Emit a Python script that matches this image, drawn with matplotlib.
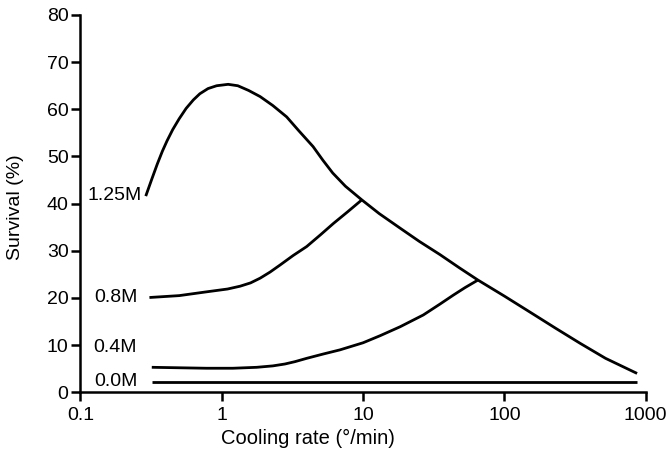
import matplotlib
matplotlib.use("Agg")
import matplotlib.pyplot as plt
from matplotlib.ticker import FixedLocator, FixedFormatter, NullLocator

plt.rcParams['font.family'] = ['Liberation Sans', 'DejaVu Sans']

# Data
x_125 = [0.29, 0.32, 0.35, 0.38, 0.41, 0.45, 0.50, 0.56, 0.63, 0.70, 0.80, 0.92, 1.11, 1.3, 1.55, 1.87, 2.3, 2.88,
         3.5, 4.43, 5.2, 6.1, 7.5, 9.8, 13, 18.3, 25, 35, 48, 65, 100, 150, 230, 343, 520, 869]
y_125 = [41.6, 45.2, 48.4, 51.1, 53.3, 55.7, 58.0, 60.2, 62.0, 63.3, 64.4, 65.0, 65.3, 65.0, 64.0, 62.7, 60.8, 58.4,
         55.5, 52.1, 49.2, 46.5, 43.7, 40.8, 37.9, 34.8, 32.0, 29.2, 26.4, 23.8, 20.4, 17.1, 13.6, 10.4, 7.2, 4.0]

x_08 = [0.308, 0.5, 0.78, 1.1, 1.35, 1.6, 1.87, 2.2, 2.59, 3.2, 3.99, 5.0, 6.17, 7.8, 9.8]
y_08 = [20.1, 20.5, 21.3, 21.9, 22.5, 23.2, 24.2, 25.5, 27.0, 29.0, 30.9, 33.4, 35.8, 38.3, 40.8]

x_04 = [0.32, 0.5, 0.78, 1.2, 1.77, 2.3, 2.8, 3.3, 3.99, 5.2, 6.87, 10, 13.2, 18.3, 26.7, 35, 43.5, 52.7, 65]
y_04 = [5.3, 5.2, 5.1, 5.1, 5.3, 5.6, 6.0, 6.5, 7.2, 8.1, 9.0, 10.5, 12.0, 13.9, 16.4, 18.7, 20.6, 22.2, 23.8]

x_00 = [0.32, 870]
y_00 = [2.2, 2.2]

series_labels = ["1.25M", "0.8M", "0.4M", "0.0M"]
label_y = [41.8, 20.0, 9.6, 2.3]
label_x = [0.272, 0.252, 0.252, 0.252]

x_ticks = [0.1, 1, 10, 100, 1000]
x_tick_labels = ["0.1", "1", "10", "100", "1000"]
y_ticks = [0, 10, 20, 30, 40, 50, 60, 70, 80]

fig = plt.figure(figsize=(6.67, 4.61), dpi=100)
ax = fig.add_axes([80.4 / 667, 1 - 392.3 / 461, 565.3 / 667, 377.3 / 461])

lw = 2.0
for xs, ys in [(x_125, y_125), (x_08, y_08), (x_04, y_04), (x_00, y_00)]:
    ax.plot(xs, ys, color='black', lw=lw, solid_capstyle='butt', solid_joinstyle='round')

for lab, lx, ly in zip(series_labels, label_x, label_y):
    ax.text(lx, ly, lab, ha='right', va='center', fontsize=14)

ax.set_xscale('log')
ax.set_xlim(0.1, 1000)
ax.set_ylim(0, 80)
ax.xaxis.set_major_locator(FixedLocator(x_ticks))
ax.xaxis.set_major_formatter(FixedFormatter(x_tick_labels))
ax.xaxis.set_minor_locator(NullLocator())
ax.yaxis.set_major_locator(FixedLocator(y_ticks))

for s in ['top', 'right']:
    ax.spines[s].set_visible(False)
for s in ['left', 'bottom']:
    ax.spines[s].set_linewidth(1.8)

ax.tick_params(axis='both', which='major', direction='out', length=6.5, width=1.8, labelsize=14)
ax.tick_params(axis='x', pad=4)
ax.tick_params(axis='y', pad=2)

fig.text(308 / 667, 1 - 438 / 461, "Cooling rate (\u00b0/min)", ha='center', va='center', fontsize=14.5)
fig.text(16 / 667, 1 - 207 / 461, "Survival (%)", ha='center', va='center', rotation=90, fontsize=14)

fig.savefig("out.png", dpi=100)
